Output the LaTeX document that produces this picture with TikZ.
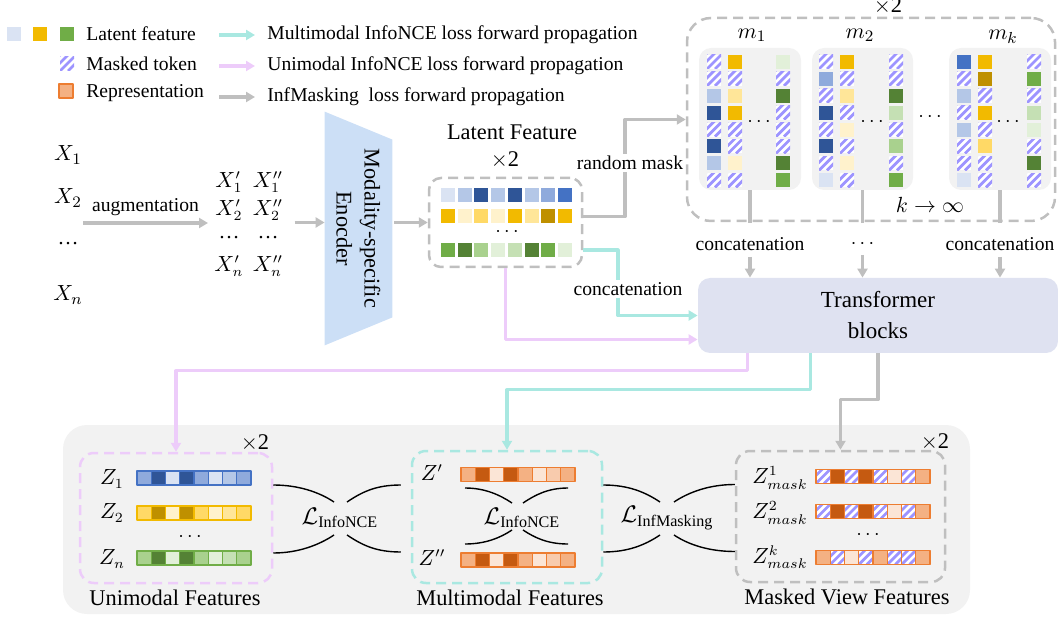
\documentclass[tikz,border=0pt]{standalone}
\usepackage{fontspec}
\setmainfont{Liberation Serif}
\usetikzlibrary{arrows.meta,positioning}

\definecolor{bl1}{HTML}{DAE3F3}\definecolor{bl2}{HTML}{B4C7E7}\definecolor{bl3}{HTML}{8FAADC}
\definecolor{bl4}{HTML}{4472C4}\definecolor{bl5}{HTML}{2F5597}
\definecolor{yl1}{HTML}{FFF2CC}\definecolor{yl2}{HTML}{FFE699}\definecolor{yl3}{HTML}{FFD966}
\definecolor{yl4}{HTML}{F2BA00}\definecolor{yl5}{HTML}{BF9000}
\definecolor{gr1}{HTML}{E2F0D9}\definecolor{gr2}{HTML}{C5E0B4}\definecolor{gr3}{HTML}{A9D18E}
\definecolor{gr4}{HTML}{70AD47}\definecolor{gr5}{HTML}{548235}
\definecolor{or1}{HTML}{FBE5D6}\definecolor{or2}{HTML}{F8CBAD}\definecolor{or3}{HTML}{F4B183}
\definecolor{or4}{HTML}{ED7D31}\definecolor{or5}{HTML}{C55A11}
\definecolor{hatchc}{HTML}{9D94FF}
\definecolor{graylin}{HTML}{BFBFBF}\definecolor{cyanlin}{HTML}{A9E8E1}\definecolor{pinklin}{HTML}{EDCCFA}
\definecolor{encc}{HTML}{CCDFF6}\definecolor{tfc}{HTML}{DFE2F1}\definecolor{panelc}{HTML}{F2F2F2}

% one token cell: x, y, width, height, fill (H = masked), border
\def\hatchkey{H}
\newcommand{\cellbox}[6]{%
  \edef\cellfill{#5}%
  \ifx\cellfill\hatchkey
    \begin{scope}
      \clip (#1-#3/2,#2-#4/2) rectangle (#1+#3/2,#2+#4/2);
      \fill[white] (#1-#3/2,#2-#4/2) rectangle (#1+#3/2,#2+#4/2);
      \foreach \s in {-16,-8,0,8}
        \draw[hatchc,line width=1.4pt] ({#1-#3/2+\s},{#2+#4/2}) -- ++(20,-20);
    \end{scope}
  \else
    \fill[#5] (#1-#3/2,#2-#4/2) rectangle (#1+#3/2,#2+#4/2);
  \fi
  \edef\cellline{#6}%
  \ifx\cellline\empty\else
    \draw[#6,line width=0.6pt] (#1-#3/2,#2-#4/2) rectangle (#1+#3/2,#2+#4/2);
  \fi}
\newcommand{\tokcol}[3]{\foreach \tk [count=\idx from 0] in {#3} {\cellbox{#1}{#2+16.9*\idx}{14}{14}{\tk}{}}}
\newcommand{\latrow}[2]{\foreach \tk [count=\idx from 0] in {#2} {\cellbox{448+16.7*\idx}{#1}{14}{14}{\tk}{}}}
\newcommand{\featbar}[4]{\foreach \tk [count=\idx from 0] in {#4} {\cellbox{#1+7.125+14.25*\idx}{#2}{14.25}{14}{\tk}{#3}}}

\begin{document}
\begin{tikzpicture}[x=0.5pt,y=-0.5pt,line join=round,
  lbl/.style={font=\fontsize{9.8}{11}\selectfont,inner sep=1pt},
  ttl/.style={font=\fontsize{11.2}{14}\selectfont,inner sep=1pt},
  mth/.style={font=\fontsize{10.5}{12}\selectfont,inner sep=1pt},
  gline/.style={draw=graylin,line width=1.6pt},
  cline/.style={draw=cyanlin,line width=1.6pt},
  pline/.style={draw=pinklin,line width=1.6pt},
  garrow/.style={gline,-{Triangle[length=4.5pt,width=5pt]}},
  carrow/.style={cline,-{Triangle[length=4.5pt,width=5pt]}},
  parrow/.style={pline,-{Triangle[length=4.5pt,width=5pt]}},
  dashbox/.style={rounded corners=7pt,dash pattern=on 5pt off 3pt,line width=1.25pt,inner sep=0},
  panel/.style={fill=panelc,rounded corners=6pt,inner sep=0},
  lossl/.style={draw=black,line width=0.7pt}]
\useasboundingbox (0,0) rectangle (1058,619);

% legend
\cellbox{14}{34}{14}{14}{bl1}{}
\cellbox{40}{34}{14}{14}{yl4}{}
\cellbox{67}{34}{14}{14}{gr4}{}
\cellbox{67}{64}{14}{14}{H}{}
\cellbox{66}{91}{14}{14}{or3}{or4}
\node[lbl,anchor=west] (lgl) at (84,34) {Latent feature};
\node[lbl,anchor=west] (lgm) at (84,64) {Masked token};
\node[lbl,anchor=west] (lgr) at (84,93) {Representation};
\node[lbl,anchor=west] (lga) at (265,35) {Multimodal InfoNCE loss forward propagation};
\node[lbl,anchor=west] (lgb) at (265,66) {Unimodal InfoNCE loss forward propagation};
\node[lbl,anchor=west] (lgc) at (265,97) {InfMasking~ loss forward propagation};
\draw[carrow] ([xshift=-23pt]lga.west) -- ([xshift=-5pt]lga.west);
\draw[parrow] ([xshift=-23pt]lgb.west) -- ([xshift=-5pt]lgb.west);
\draw[garrow] ([xshift=-23pt]lgc.west) -- ([xshift=-5pt]lgc.west);

% inputs and augmentation
\node[mth,font=\fontsize{11}{12}\selectfont] (x1) at (68,155) {$X_1$};
\node[mth,font=\fontsize{11}{12}\selectfont] (x2) at (68,198) {$X_2$};
\node[mth] (xd) at (68,244) {\ldots};
\node[mth,font=\fontsize{11}{12}\selectfont] (xn) at (68,295) {$X_n$};
\coordinate (aug0) at (83,223);
\coordinate (aug1) at (208,223);
\draw[garrow] (aug0) -- node[lbl,above=2pt] (augl) {augmentation} (aug1);
\node[mth] (xa1) at (229,182) {$X'_1$};  \node[mth] (xb1) at (268,182) {$X''_1$};
\node[mth] (xa2) at (229,210) {$X'_2$};  \node[mth] (xb2) at (268,210) {$X''_2$};
\node[mth] (xad) at (229,238) {\ldots};  \node[mth] (xbd) at (268,238) {\ldots};
\node[mth] (xan) at (229,266) {$X'_n$};  \node[mth] (xbn) at (268,266) {$X''_n$};

% encoder
\node[inner sep=0,minimum width=33.5pt,minimum height=116.5pt] (encbody) at (358.5,228.5) {};
\fill[encc] (encbody.north west) -- ([yshift=-14pt]encbody.north east)
  -- ([yshift=14pt]encbody.south east) -- (encbody.south west) -- cycle;
\node[ttl,rotate=-90,align=center] (enctxt) at (encbody) {Modality-specific\\Enocder};

% latent feature
\node[dashbox,draw=graylin,rounded corners=6pt,minimum width=76.5pt,minimum height=44.5pt] (lat) at (505.5,222.5) {};
\node[ttl] (latt) at (512,132) {Latent Feature};
\node[ttl] (latx) at (505,160) {$\times$2};
\latrow{195}{bl1,bl2,bl5,bl2,bl5,bl2,bl3,bl4}
\latrow{216}{yl4,yl1,yl3,yl1,yl4,yl2,yl5,yl4}
\latrow{250}{gr4,gr5,gr3,gr1,gr2,gr5,gr4,gr1}
\node[lbl] (latd) at (507,232) {$\cdots$};
\draw[garrow] ([xshift=-15pt]encbody.west |- lat.west) -- (encbody.west |- lat.west);
\draw[garrow] ([xshift=1pt]encbody.east |- lat.west) -- (lat.west);

% masked views
\node[dashbox,draw=graylin,rounded corners=12pt,minimum width=184pt,minimum height=101.5pt] (mbox) at (871,119.5) {};
\node[ttl] (mx) at (888,6) {$\times$2};
\node[panel,minimum width=51pt,minimum height=71pt] (p1) at (750,119) {};
\node[panel,minimum width=50.5pt,minimum height=71pt] (p2) at (862.5,119) {};
\node[panel,minimum width=51pt,minimum height=71pt] (p3) at (1000,119) {};
\node[mth,font=\fontsize{11}{12}\selectfont] (m1) at (752,35) {$m_1$};
\node[mth,font=\fontsize{11}{12}\selectfont] (m2) at (860,35) {$m_2$};
\node[mth,font=\fontsize{11}{12}\selectfont] (mk) at (1003,37) {$m_k$};
\tokcol{714}{62}{H,H,bl2,bl5,H,bl5,bl2,H}
\tokcol{735}{62}{yl4,H,yl2,yl4,H,H,yl1,H}
\tokcol{783}{62}{gr1,H,gr5,H,H,H,gr5,gr4}
\tokcol{826}{62}{H,bl3,H,bl5,H,bl5,H,bl1}
\tokcol{847}{62}{yl4,H,yl2,H,yl1,H,yl1,H}
\tokcol{896}{62}{H,H,gr5,gr2,H,gr3,H,gr4}
\tokcol{964}{62}{bl4,H,bl2,H,bl2,H,H,bl1}
\tokcol{985}{62}{yl4,yl5,H,yl4,H,yl3,H,H}
\tokcol{1034}{62}{H,gr4,H,gr2,gr1,H,gr5,H}
\node[lbl] (d1) at (759,122) {$\cdots$};
\node[lbl] (d2) at (872,122) {$\cdots$};
\node[lbl] (d3) at (1008,122) {$\cdots$};
\node[lbl] (d4) at (930,117) {$\cdots$};
\node[mth] (kinf) at (930,205) {$k\rightarrow\infty$};

% random mask
\node[lbl] (rm) at (630,163) {random mask};
\coordinate (rmk) at (625,163);
\draw[gline] ([yshift=3pt]lat.east) -| (rmk |- rm.south);
\draw[garrow] (rmk |- rm.north) |- (mbox.west);

% transformer
\node[fill=tfc,rounded corners=6pt,minimum width=180pt,minimum height=37.5pt,align=center,
  font=\fontsize{11.5}{15.5}\selectfont] (tf) at (878,315.5) {Transformer\\blocks};
\node[lbl] (c1) at (750,244) {concatenation};
\node[lbl] (c2) at (862.5,244) {$\cdots$};
\node[lbl] (c3) at (1000,244) {concatenation};
\foreach \p/\q in {p1/c1,p2/c2,p3/c3} {
  \draw[gline] (\p.south) -- ++(0,33);
  \draw[garrow] ([yshift=-2pt]\q.south) -- (\q.south |- tf.north);
}
\node[lbl] (cc) at (628,289) {concatenation};
\coordinate (cck) at (618,289);
\draw[cline] ([yshift=-13.75pt]lat.east) -| (cck |- cc.north);
\draw[carrow] (cck |- cc.south) |- (tf.west);
\draw[parrow] (lat.south) |- ([yshift=-12pt]tf.west);

% bottom features
\node[fill=panelc,rounded corners=12pt,minimum width=453.5pt,minimum height=94.5pt] (bot) at (516.5,519.5) {};
\node[dashbox,draw=pinklin,minimum width=96pt,minimum height=65pt] (uni) at (176,518) {};
\node[dashbox,draw=cyanlin,minimum width=95pt,minimum height=66pt] (mm) at (507,517) {};
\node[dashbox,draw=graylin,minimum width=104.5pt,minimum height=65.5pt] (msk) at (840.5,516.5) {};
\node[ttl] (unix) at (255,443) {$\times$2};
\node[ttl] (mskx) at (935,442) {$\times$2};
\node[ttl] (unit) at (175,598) {Unimodal Features};
\node[ttl] (mmt) at (510,598) {Multimodal Features};
\node[ttl] (mskt) at (847,597) {Masked View Features};

\draw[parrow] ([xshift=25pt]tf.south west) |- ([yshift=40.5pt]uni.north) -- (uni.north);
\draw[carrow] ([xshift=56.5pt]tf.south west) |- ([yshift=30pt]mm.north) -- (mm.north);
\draw[garrow] (tf.south) |- ([yshift=25pt]msk.north) -- (msk.north);

\node[mth] (z1) at (112,479) {$Z_1$};
\node[mth] (z2) at (112,513) {$Z_2$};
\node[lbl] (zd) at (190,537) {$\cdots$};
\node[mth] (zn) at (112,559) {$Z_n$};
\featbar{137}{478}{bl4}{bl3,bl5,bl1,bl5,bl3,bl1,bl2,bl3}
\featbar{137}{513}{yl4}{yl3,yl5,yl1,yl5,yl3,yl1,yl2,yl3}
\featbar{137}{558}{gr4}{gr3,gr5,gr1,gr5,gr3,gr1,gr2,gr3}

\node[mth] (za) at (432,473) {$Z'$};
\node[mth] (zb) at (432,558) {$Z''$};
\featbar{461}{474.5}{or4}{or3,or5,or1,or5,or3,or1,or2,or3}
\featbar{461}{560}{or4}{or3,or5,or1,or5,or3,or1,or2,or3}

\node[mth] (zm1) at (780,478) {$Z^1_{mask}$};
\node[mth] (zm2) at (780,513) {$Z^2_{mask}$};
\node[lbl] (zmd) at (868,535) {$\cdots$};
\node[mth] (zmk) at (780,557) {$Z^k_{mask}$};
\featbar{816}{476.5}{or4}{H,or5,H,or5,H,or1,H,or3}
\featbar{816}{511.5}{or4}{H,or5,H,or5,H,or1,H,or3}
\featbar{816}{557.5}{or4}{or3,H,or1,H,or3,H,H,or3}

% losses
\node[mth,font=\fontsize{11.5}{13}\selectfont] (l1) at (340,518) {$\mathcal{L}_{\mathrm{InfoNCE}}$};
\node[mth,font=\fontsize{11.5}{13}\selectfont] (l2) at (522,518) {$\mathcal{L}_{\mathrm{InfoNCE}}$};
\node[mth,font=\fontsize{11.5}{13}\selectfont] (l3) at (667,518) {$\mathcal{L}_{\mathrm{InfMasking}}$};
\draw[lossl] ([yshift=16.5pt]uni.east) .. controls +(25,0) and +(-15,-10) .. ([shift={(-6,-16)}]l1.center);
\draw[lossl] ([yshift=-17.5pt]uni.east) .. controls +(25,0) and +(-15,10) .. ([shift={(-6,17)}]l1.center);
\draw[lossl] ([shift={(7,-16)}]l1.center) .. controls +(15,-10) and +(-25,0) .. ([xshift=-5pt,yshift=16pt]mm.west);
\draw[lossl] ([shift={(7,17)}]l1.center) .. controls +(15,10) and +(-25,0) .. ([xshift=-5pt,yshift=-17.5pt]mm.west);
\draw[lossl] ([shift={(-57,-30)}]l2.center) .. controls +(20,0) and +(-12,-8) .. ([shift={(-10,-15)}]l2.center);
\draw[lossl] ([shift={(-57,26)}]l2.center) .. controls +(20,0) and +(-12,8) .. ([shift={(-10,12)}]l2.center);
\draw[lossl] ([shift={(1,-15)}]l2.center) .. controls +(12,-8) and +(-20,0) .. ([shift={(46,-30)}]l2.center);
\draw[lossl] ([shift={(1,12)}]l2.center) .. controls +(12,8) and +(-20,0) .. ([shift={(46,26)}]l2.center);
\draw[lossl] ([yshift=16pt]mm.east) .. controls +(25,0) and +(-15,-10) .. ([shift={(-7,-16)}]l3.center);
\draw[lossl] ([yshift=-17.5pt]mm.east) .. controls +(25,0) and +(-15,10) .. ([shift={(-7,17)}]l3.center);
\draw[lossl] ([shift={(7,-16)}]l3.center) .. controls +(15,-10) and +(-25,0) .. ([yshift=16pt]msk.west);
\draw[lossl] ([shift={(7,17)}]l3.center) .. controls +(15,10) and +(-25,0) .. ([yshift=-17.5pt]msk.west);
\end{tikzpicture}
\end{document}
